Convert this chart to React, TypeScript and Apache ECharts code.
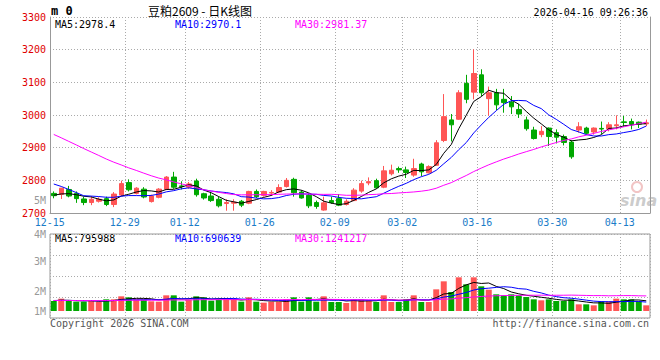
import React, { useEffect, useRef } from 'react';
import * as echarts from 'echarts';

const dates = ['12-15','12-16','12-17','12-18','12-19','12-22','12-23','12-24','12-25','12-26','12-29','12-30','12-31','01-05','01-06','01-07','01-08','01-09','01-12','01-13','01-14','01-15','01-16','01-19','01-20','01-21','01-22','01-23','01-26','01-27','01-28','01-29','01-30','02-02','02-03','02-04','02-05','02-06','02-09','02-10','02-11','02-12','02-13','02-24','02-25','02-26','02-27','03-02','03-03','03-04','03-05','03-06','03-09','03-10','03-11','03-12','03-13','03-16','03-17','03-18','03-19','03-20','03-23','03-24','03-25','03-26','03-27','03-30','03-31','04-01','04-02','04-03','04-07','04-08','04-09','04-10','04-13','04-14','04-15','04-16'];
const labelDates = ['12-15','12-29','01-12','01-26','02-09','03-02','03-16','03-30','04-13'];

const opens = [2760,2757,2772,2760,2743,2732,2736,2744,2726,2755,2793,2760,2773,2735,2748,2773,2810,2783,2779,2798,2759,2752,2742,2729,2730,2736,2730,2766,2754,2761,2764,2781,2803,2764,2754,2732,2709,2738,2744,2726,2738,2767,2792,2799,2779,2820,2836,2832,2816,2850,2823,2846,2922,2985,2987,3097,3070,3123,3050,3068,3048,3040,3017,2985,2954,2940,2960,2946,2934,2917,2954,2960,2948,2959,2958,2967,2979,2980,2978,2973];
const closes = [2753,2776,2752,2744,2732,2742,2742,2726,2758,2790,2771,2776,2749,2752,2773,2810,2779,2781,2789,2756,2746,2738,2722,2732,2733,2724,2766,2750,2766,2763,2778,2800,2762,2746,2722,2720,2731,2732,2724,2736,2770,2790,2796,2777,2829,2831,2832,2824,2836,2826,2842,2915,2995,2970,3068,3048,3127,3068,3068,3031,3038,3025,3003,2958,2928,2950,2934,2932,2916,2872,2964,2944,2960,2957,2970,2970,2977,2972,2972,2976];
const highs = [2766,2777,2783,2766,2750,2752,2748,2750,2764,2799,2803,2779,2779,2756,2776,2813,2826,2797,2795,2805,2762,2762,2750,2742,2742,2740,2768,2772,2768,2770,2788,2807,2808,2770,2760,2738,2750,2750,2758,2742,2776,2799,2809,2805,2844,2848,2842,2842,2866,2854,2846,2923,3064,3003,3076,3123,3201,3140,3087,3080,3080,3058,3034,2995,2964,2966,2962,2956,2940,2923,2978,2964,2962,2980,2978,2999,2997,2989,2980,2986];
const lows = [2745,2743,2748,2731,2724,2724,2732,2721,2718,2752,2766,2757,2745,2732,2745,2770,2774,2772,2774,2750,2741,2734,2717,2707,2707,2718,2727,2746,2750,2752,2761,2778,2750,2744,2715,2713,2707,2728,2721,2723,2736,2762,2785,2774,2776,2815,2823,2807,2811,2813,2821,2844,2917,2919,2985,3036,3048,3058,2998,3015,3007,3003,2991,2952,2925,2932,2905,2913,2907,2866,2946,2940,2940,2942,2950,2956,2964,2956,2960,2966];
// closes before 12-15, inferred from the moving-average lines at the left edge
const priorCloses = [3085,3078,3070,3066,3060,3058,3052,3048,3045,3040,3010,3000,2992,2985,2975,2968,2960,2950,2945,2940,2850,2845,2838,2830,2752,2756,2748,2760,2755];

const volumes = [820000,1011000,820000,765000,765000,875000,738000,957000,957000,1203000,1121000,957000,929000,793000,765000,1285000,1285000,765000,929000,1203000,1121000,847000,929000,1011000,929000,765000,1121000,765000,683000,765000,765000,957000,1121000,765000,1121000,765000,1203000,738000,738000,656000,957000,957000,875000,738000,1285000,738000,738000,957000,1285000,738000,738000,1777000,2433000,1558000,2761000,2187000,2761000,2023000,1749000,1367000,1285000,1367000,1285000,1148000,957000,875000,957000,820000,820000,957000,547000,547000,465000,793000,793000,1011000,957000,957000,793000,465000];
const priorVolumes = [880000,910000,860000,820000,905000,870000,840000,800000,890000,860000,830000,910000,850000,880000,820000,860000,900000,840000,810000,870000,920000,860000,830000,890000,880000,840000,860000,900000,820000];

const priceAxisTicks = { min: 2700, max: 3300, interval: 100 };
const volTickLabels = ['1M', '2M', '3M', '4M'];
const volTickValues = [0, 1640000, 4100000, 6314000];
const volExtent = { min: -574000, max: 6314000 };

const maNames = ['MA5', 'MA10', 'MA30'];
const maPeriods = [5, 10, 30];
const priceMaTexts = ['2978.4', '2970.1', '2981.37'];
const volMaTexts = ['795988', '690639', '1241217'];
const maColors = ['#000000', '#0000ff', '#ff00ff'];

const UP = '#ff5555';
const DOWN = '#00a800';
const MONO = '"DejaVu Sans Mono", "Liberation Mono", monospace';
const dotted = { color: '#aaaaaa', type: [1, 2] as any, width: 1 };

function movingAvg(prior: number[], vals: number[], n: number) {
  const all = prior.concat(vals);
  const off = prior.length;
  return vals.map((_, i) => {
    let s = 0;
    for (let k = 0; k < n; k++) s += all[off + i - k];
    return +(s / n).toFixed(2);
  });
}

const isLabelDate = (_i: number, v: string) => labelDates.includes(v);

function buildOption(): any {
  const candle = dates.map((_, i) => [opens[i], closes[i], lows[i], highs[i]]);
  const volData = volumes.map((v, i) => ({ value: v, itemStyle: { color: closes[i] >= opens[i] ? UP : DOWN } }));

  const priceMaSeries = maPeriods.map((p, k) => ({
    type: 'line', name: maNames[k], xAxisIndex: 0, yAxisIndex: 0,
    data: movingAvg(priorCloses, closes, p), showSymbol: false, silent: true,
    lineStyle: { color: maColors[k], width: 1 }, z: 3,
  }));
  const volMaSeries = maPeriods.map((p, k) => ({
    type: 'line', name: 'V' + maNames[k], xAxisIndex: 1, yAxisIndex: 2,
    data: movingAvg(priorVolumes, volumes, p), showSymbol: false, silent: true,
    lineStyle: { color: maColors[k], width: 1 }, z: 3,
  }));

  const textBase = { fontFamily: MONO, fontSize: 10 };
  const maXs = [55, 175, 295];
  const graphics: any[] = [
    { type: 'text', x: 51, y: 11, style: { text: 'm 0', font: `bold 12px ${MONO}`, fill: '#000', verticalAlign: 'middle' } },
    { type: 'text', x: 200, y: 10, style: { text: '豆粕2609 - 日K线图', font: '12px "Noto Sans CJK SC"', fill: '#000', align: 'center', verticalAlign: 'middle' } },
    { type: 'text', x: 648, y: 12, style: { text: '2026-04-16 09:26:36', ...textBase, fill: '#000', align: 'right', verticalAlign: 'middle' } },
    { type: 'text', x: 46, y: 200, style: { text: '5M', ...textBase, fill: '#999', align: 'right', verticalAlign: 'middle' } },
    { type: 'text', x: 50, y: 323, style: { text: 'Copyright 2026 SINA.COM', ...textBase, fill: '#555', verticalAlign: 'middle' } },
    { type: 'text', x: 649, y: 323, style: { text: 'http://finance.sina.com.cn', ...textBase, fill: '#555', align: 'right', verticalAlign: 'middle' } },
    { type: 'circle', shape: { cx: 637, cy: 187, r: 5 }, style: { fill: 'none', stroke: 'rgba(230,140,140,0.5)', lineWidth: 2 }, z: 1 },
    { type: 'text', x: 620, y: 192, style: { text: 'sina', font: 'italic bold 16px "DejaVu Sans"', fill: 'rgba(160,160,160,0.55)' }, z: 1 },
  ];
  maNames.forEach((n, k) => {
    graphics.push({ type: 'text', x: maXs[k], y: 24, style: { text: `${n}:${priceMaTexts[k]}`, ...textBase, fill: maColors[k], verticalAlign: 'middle' } });
    graphics.push({ type: 'text', x: maXs[k], y: 238, style: { text: `${n}:${volMaTexts[k]}`, ...textBase, fill: maColors[k], verticalAlign: 'middle' } });
  });

  return {
    animation: false,
    backgroundColor: '#ffffff',
    grid: [
      { left: 50, right: 10, top: 17, height: 196 },
      { left: 50, right: 10, top: 234, height: 84, show: true, borderColor: '#999', borderWidth: 1 },
    ],
    xAxis: [
      {
        type: 'category', gridIndex: 0, data: dates, boundaryGap: true,
        axisLine: { show: true, lineStyle: { color: '#999' } },
        axisTick: { show: false },
        axisLabel: { interval: isLabelDate, color: '#1a7cc8', fontFamily: MONO, fontSize: 10, lineHeight: 10, margin: 4, padding: [0, 8, 0, 0] },
        splitLine: { show: true, interval: isLabelDate, lineStyle: dotted },
      },
      {
        type: 'category', gridIndex: 1, data: dates, boundaryGap: true,
        axisLine: { show: false }, axisTick: { show: false }, axisLabel: { show: false },
        splitLine: { show: true, interval: isLabelDate, lineStyle: dotted },
      },
    ],
    yAxis: [
      {
        type: 'value', gridIndex: 0, min: priceAxisTicks.min, max: priceAxisTicks.max, interval: priceAxisTicks.interval,
        axisLine: { show: true, lineStyle: { color: '#999' } }, axisTick: { show: false },
        axisLabel: { color: '#e00000', fontFamily: MONO, fontSize: 10, lineHeight: 9, margin: 4, formatter: (v: number) => String(v) },
        splitLine: { show: true, lineStyle: dotted },
      },
      {
        type: 'value', gridIndex: 0, position: 'right', min: priceAxisTicks.min, max: priceAxisTicks.max, interval: priceAxisTicks.interval,
        axisLine: { show: true, lineStyle: { color: '#999' } }, axisTick: { show: false }, axisLabel: { show: false }, splitLine: { show: false },
      },
      {
        type: 'value', gridIndex: 1, min: volExtent.min, max: volExtent.max,
        axisLine: { show: false }, axisTick: { show: false }, splitLine: { show: false },
        axisLabel: {
          customValues: volTickValues, color: '#999', fontFamily: MONO, fontSize: 10, lineHeight: 9, margin: 4,
          formatter: (v: number) => {
            const idx = volTickValues.findIndex((t) => Math.abs(t - v) < 1);
            return idx >= 0 ? volTickLabels[idx] : '';
          },
        },
      },
      {
        type: 'value', gridIndex: 1, min: 0, max: 4, interval: 1,
        axisLine: { show: false }, axisTick: { show: false }, axisLabel: { show: false },
        splitLine: { show: true, lineStyle: dotted },
      },
    ],
    series: [
      {
        type: 'candlestick', xAxisIndex: 0, yAxisIndex: 0, data: candle, barWidth: 5,
        itemStyle: { color: UP, color0: DOWN, borderColor: UP, borderColor0: DOWN, borderWidth: 1 },
        z: 2,
      },
      ...priceMaSeries,
      { type: 'bar', xAxisIndex: 1, yAxisIndex: 2, data: volData, barWidth: 6, z: 2 },
      ...volMaSeries,
    ],
    graphic: graphics,
  };
}

export default function App() {
  const ref = useRef<HTMLDivElement>(null);
  useEffect(() => {
    const chart = echarts.init(ref.current as HTMLDivElement, null, { renderer: 'svg' });
    chart.setOption(buildOption());
    return () => chart.dispose();
  }, []);
  return <div ref={ref} style={{ position: 'absolute', left: 0, top: 0, width: 660, height: 360 }} />;
}
